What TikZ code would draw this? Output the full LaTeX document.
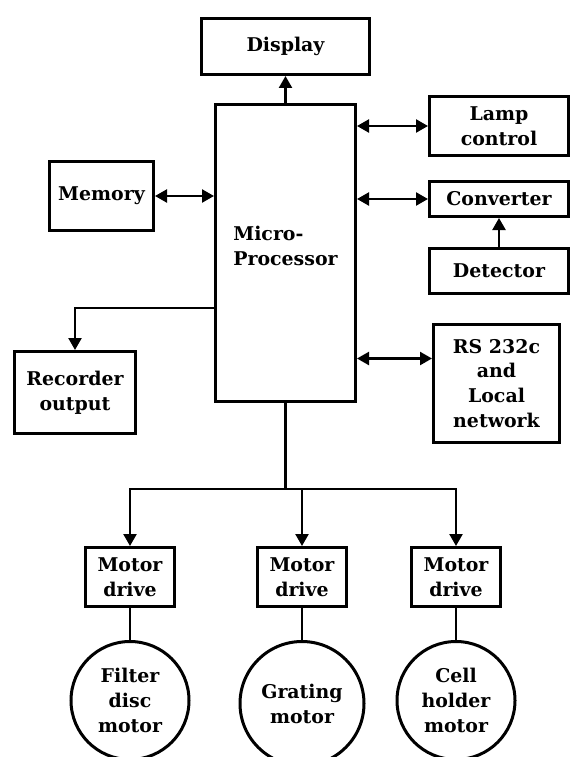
\documentclass[tikz,border=0pt]{standalone}
\usepackage{fontspec}
\setmainfont{DejaVu Serif}
\usetikzlibrary{positioning,arrows.meta}

\begin{document}
\begin{tikzpicture}[
  x=1bp, y=-1bp,
  box/.style={rectangle, draw, line width=3bp, inner sep=2bp, align=center},
  motor/.style={circle, draw, line width=3bp, minimum size=118bp, inner sep=0pt, align=center},
  >={Triangle[length=12bp,width=13bp]},
  font=\bfseries\fontsize{19}{25}\selectfont,
  line width=2.3bp
]
\useasboundingbox (0,0) rectangle (572,757);

\node[box, minimum width=140bp, minimum height=297bp] (proc) at (285.5,253) {};
\node[align=left, yshift=7bp] (proctxt) at (proc.center) {Micro-\\Processor};
\node[box, minimum width=168bp, minimum height=56bp, above=27bp of proc] (disp) {Display};
\node[box, minimum width=104bp, minimum height=69bp] (mem) at (101.5,196) {Memory};
\node[box, minimum width=121bp, minimum height=82bp] (rec) at (75,392.5) {Recorder\\output};

\node[box, minimum width=139bp, minimum height=59bp] (lamp) at (499,126) {Lamp\\control};
\node[box, minimum width=139bp, minimum height=35bp] (conv) at (499,199) {Converter};
\node[box, minimum width=139bp, minimum height=45bp, below=29bp of conv] (det) {Detector};
\node[box, minimum width=126bp, minimum height=118bp] (rs) at (496.5,383.5) {RS 232c\\and\\Local\\network};

\node[box, minimum width=89bp, minimum height=59bp] (drive1) at (130,577) {Motor\\drive};
\node[box, minimum width=89bp, minimum height=59bp] (drive2) at (302,577) {Motor\\drive};
\node[box, minimum width=89bp, minimum height=59bp] (drive3) at (456,577) {Motor\\drive};
\node[motor, below=32bp of drive1] (motor1) {Filter\\disc\\motor};
\node[motor, minimum size=124bp, below=32bp of drive2] (motor2) {Grating\\motor};
\node[motor, below=32bp of drive3] (motor3) {Cell\\holder\\motor};

\draw[->] (proc) -- (disp);
\draw[<->] (mem) -- (mem -| proc.west);
\draw[<->] (proc.east |- lamp) -- (lamp);
\draw[<->] (proc.east |- conv) -- (conv);
\draw[->] (det) -- (conv);
\coordinate (rsin) at ([yshift=25bp]rs.west);
\draw[<->] (proc.east |- rsin) -- (rsin);
\coordinate (tap) at ([yshift=-55bp]proc.west);
\draw[->] (tap) -| (rec);

\draw (proc.south) -- ++(0,86) coordinate (split);
\foreach \i in {1,2,3} {
  \draw[->] (split) -| (drive\i);
  \draw (drive\i) -- (motor\i);
}
\end{tikzpicture}
\end{document}
